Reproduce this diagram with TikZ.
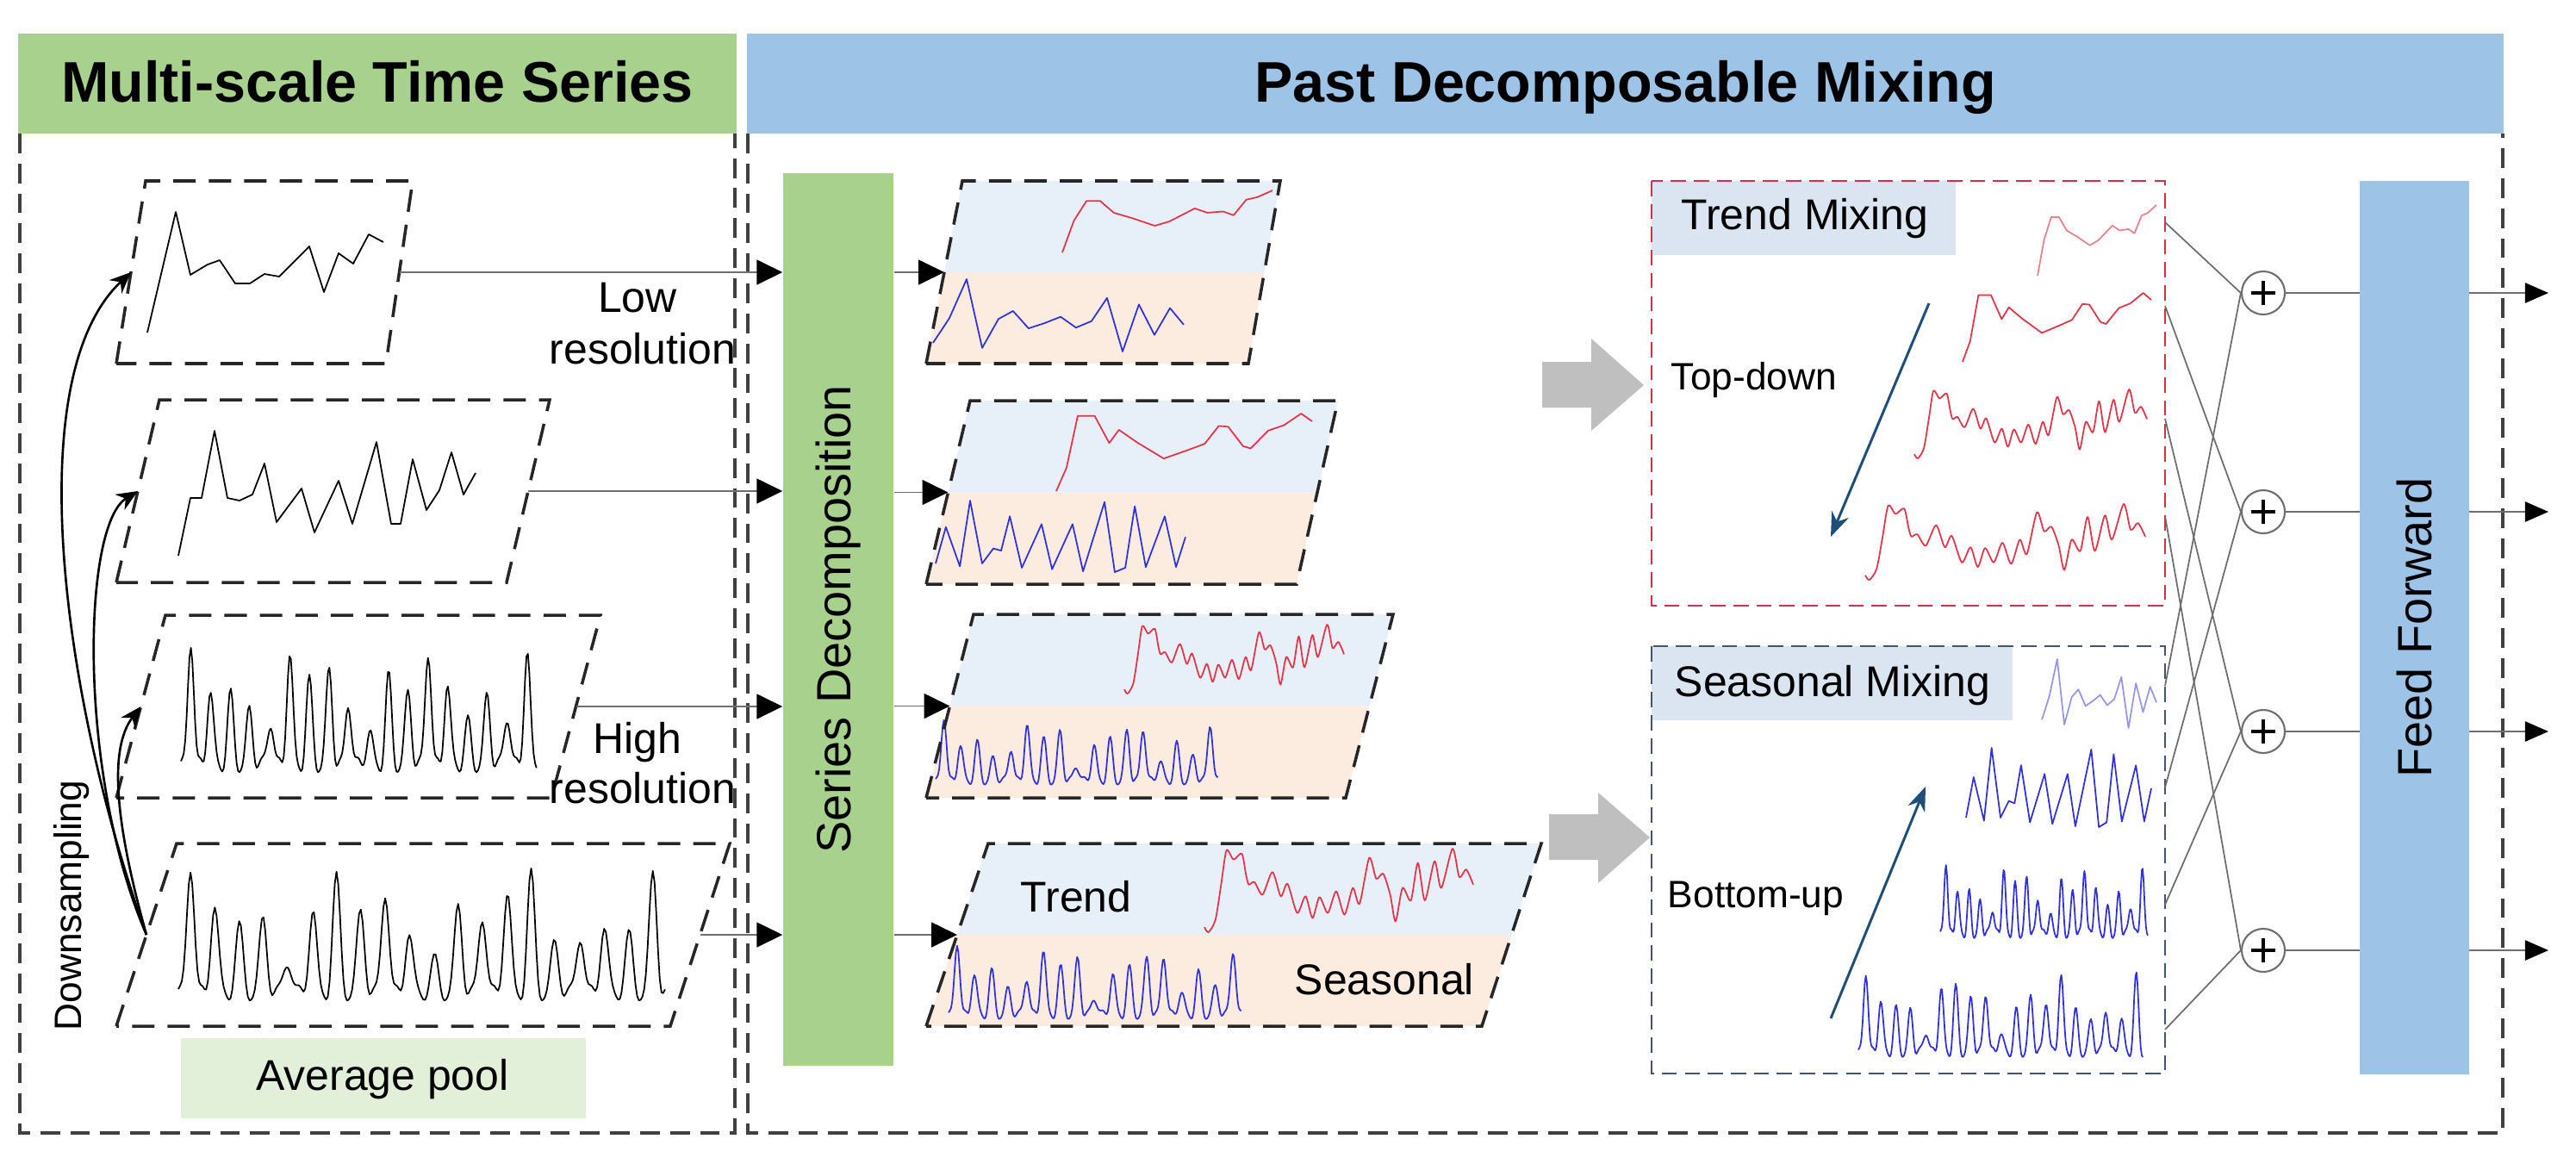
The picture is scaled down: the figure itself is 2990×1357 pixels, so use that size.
\documentclass[tikz,border=0pt]{standalone}
\usepackage{fontspec}
\setmainfont{Liberation Sans}
\usetikzlibrary{arrows.meta,calc}

\definecolor{hdgreen}{RGB}{169,209,142}
\definecolor{hdblue}{RGB}{157,195,230}
\definecolor{poolgreen}{RGB}{226,240,217}
\definecolor{lblblue}{RGB}{219,229,242}
\definecolor{topblue}{RGB}{231,239,248}
\definecolor{botorange}{RGB}{252,236,224}
\definecolor{trendred}{RGB}{228,52,72}
\definecolor{trendpale}{RGB}{232,130,140}
\definecolor{seasblue}{RGB}{48,48,220}
\definecolor{seaspale}{RGB}{150,150,235}
\definecolor{blockgray}{RGB}{191,191,191}
\definecolor{mixred}{RGB}{214,48,72}
\definecolor{mixslate}{RGB}{68,84,106}
\definecolor{navyarrow}{RGB}{31,78,121}
\definecolor{linegray}{RGB}{110,110,110}
\definecolor{panelgray}{RGB}{64,64,64}
\definecolor{paragray}{RGB}{38,38,38}

% parallelogram corner coordinates: name, BLx, TLx, TRx, BRx, ytop, ybot
\newcommand{\tspara}[7]{%
  \coordinate (#1-bl) at (#2,#7);
  \coordinate (#1-tl) at (#3,#6);
  \coordinate (#1-tr) at (#4,#6);
  \coordinate (#1-br) at (#5,#7);
  \coordinate (#1-ml) at ($(#1-bl)!0.5!(#1-tl)$);
  \coordinate (#1-mr) at ($(#1-br)!0.5!(#1-tr)$);}

\newcommand{\curveplot}[2]{\draw[#2] plot coordinates {#1};}
% style, xl, xr, ytop, ybot, normalized coordinate list (0..100)
\newcommand{\curvebox}[6]{%
  \begin{scope}[shift={(#2,#5)},xscale={(#3-#2)/100},yscale={-(#5-#4)/100}]
    \expandafter\curveplot\expandafter{#6}{#1}
  \end{scope}}

\newcommand{\trendA}{(0,0) (5.5,51) (11.5,83) (18,83) (24.5,64) (33.5,55) (44,43) (51,50) (63,71) (69,64) (76.5,66) (81.5,60) (87.5,85) (92.7,89) (100,100)}
\newcommand{\trendB}{(0,0) (4,30) (8.4,97) (15,97) (20.7,62) (24.5,79) (31.5,63) (42,42) (51.5,53) (58,61) (63.5,84) (67.2,83) (73,58) (76,55) (82.8,78) (89,85) (95.7,100) (100,90)}
\newcommand{\trendC}{(0,6) (1.5,0) (4.1,15) (6.2,57) (8.2,98) (10.8,87) (13.9,94) (15.5,68) (16.5,57) (18.6,60) (21.6,45) (25.3,72) (28.4,43) (30.9,58) (34.5,23) (37.6,43) (40.2,17) (42.8,42) (45.9,23) (49,49) (52.1,21) (55.2,53) (57.7,34) (61.3,89) (63.9,64) (66.5,70) (69.1,45) (71.1,13) (73.7,53) (76.8,38) (79.4,83) (82,38) (85.6,85) (88.1,53) (92.3,100) (94.8,66) (97.4,75) (100,57)}
\newcommand{\seasA}{(0,12) (6.5,46) (13.4,100) (19.6,5) (26.1,45) (31.9,56) (38.1,32) (44.3,39) (50.9,48) (57,33) (63.2,42) (69.4,74) (75.6,0) (82.1,65) (88.3,23) (94.5,60) (100,37)}
\newcommand{\seasB}{(0,12) (4.1,63) (9.7,8) (13.8,100) (18.6,12) (23.1,33) (26.2,30) (29.7,78) (34.5,6) (42.4,67) (46.6,4) (54.8,67) (59,1) (67.6,98) (71.7,0) (75.9,6) (79.7,92) (84.1,7) (91.7,78) (96.2,7) (100,49)}

\begin{document}
\begin{tikzpicture}[x=0.01cm,y=-0.01cm,
  declare function={p4(\av)=\av*\av*\av*\av;
    spk(\tv,\nv)=(0.6+0.22*sin(1116*\tv+50)+0.18*sin(2628*\tv+10))*p4(sin(180*\nv*\tv))+0.06*sin(450*\nv*\tv+30)+0.05;},
  panel/.style={draw=panelgray,line width=1pt,dash pattern=on 6.5pt off 3.4pt},
  para/.style={draw=paragray,line width=1pt,dash pattern=on 7.4pt off 4.3pt},
  trendbox/.style={draw=mixred,line width=0.7pt,dash pattern=on 5pt off 2.6pt},
  seasbox/.style={draw=mixslate,line width=0.7pt,dash pattern=on 5pt off 2.6pt},
  blk/.style={black,line width=0.5pt,line join=round},
  redc/.style={trendred,line width=0.5pt,line join=round},
  redpale/.style={trendpale,line width=0.5pt,line join=round},
  bluec/.style={seasblue,line width=0.5pt,line join=round},
  bluepale/.style={seaspale,line width=0.5pt,line join=round},
  inarrow/.style={draw=linegray,line width=0.55pt,-{Triangle[length=8.5pt,width=8.2pt,color=black]}},
  outarrow/.style={draw=linegray,line width=0.55pt,-{Triangle[length=7.7pt,width=6.6pt,color=black]}},
  dsarrow/.style={black,line width=0.75pt,-{Stealth[length=7pt,width=6pt]}},
  mixarrow/.style={navyarrow,line width=0.85pt,-{Stealth[length=8pt,width=6pt]}},
  conn/.style={linegray,line width=0.5pt},
  title/.style={font=\fontsize{18.9pt}{22pt}\selectfont\bfseries,inner sep=0pt},
  lbl/.style={font=\fontsize{14.2pt}{17pt}\selectfont,inner sep=0pt},
  lblsm/.style={font=\fontsize{12.6pt}{15pt}\selectfont,inner sep=0pt},
  bartext/.style={font=\fontsize{15.9pt}{19pt}\selectfont,rotate=90,inner sep=0pt},
  pluscirc/.style={circle,draw=linegray,line width=0.6pt,minimum size=0.5cm,inner sep=0pt,fill=white,
    path picture={
      \draw[line width=1.2pt,black] ([xshift=-0.14cm]path picture bounding box.center) -- ([xshift=0.14cm]path picture bounding box.center);
      \draw[line width=1.2pt,black] ([yshift=-0.14cm]path picture bounding box.center) -- ([yshift=0.14cm]path picture bounding box.center);}}
]
\useasboundingbox (0,0) rectangle (2990,1357);

% ---------------- headers ----------------
\node[fill=hdgreen,minimum width=8.34cm,minimum height=1.16cm,inner sep=0pt] (hdl) at (438,97) {};
\node[fill=hdblue,minimum width=20.37cm,minimum height=1.16cm,inner sep=0pt] (hdr) at (1886.5,97) {};
\node[title,anchor=base] (ttl) at (438,118) {Multi-scale Time Series};
\node[title,anchor=base] (ttr) at (1886.5,118) {Past Decomposable Mixing};

% ---------------- panels ----------------
\draw[panel] (23,155) -- (23,1315) -- (853,1315) -- (853,155);
\draw[panel] (868,155) -- (868,1315) -- (2905,1315) -- (2905,155);

% ---------------- left: multi-scale series ----------------
\tspara{p1}{135}{169}{479}{448}{210}{422}
\tspara{p2}{135}{185}{638}{588}{464}{676}
\tspara{p3}{135}{192}{697}{640}{714}{926}
\tspara{p4}{135}{205}{847}{778}{979}{1191}
\foreach \pp in {p1,p2,p3,p4} {\draw[para] (\pp-bl) -- (\pp-tl) -- (\pp-tr) -- (\pp-br) -- cycle;}

\draw[blk] plot coordinates {(171,386) (204,246) (221,319) (241,307) (255,302) (273,329) (290,329) (307,318) (324,321) (359,286) (376,339) (393,294) (410,306) (428,272) (445,281)};
\draw[blk] plot coordinates {(207,645) (221,578) (234,578) (249,500) (264,578) (278,581) (293,574) (307,538) (321,606) (350,567) (365,618) (393,558) (409,608) (437,513) (454,608) (465,608) (479,533) (495,592) (510,569) (524,525) (538,574) (552,549)};
\draw[blk] plot[domain=0:1,samples=250] ({210+413*\x},{895-145*spk(\x,18)});
\draw[blk] plot[domain=0:1,samples=280] ({207+565*\x},{1160-150*spk(\x,20)});

% downsampling arrows
\draw[dsarrow] (p4-ml) .. controls (75,820) and (20,440) .. (p1-ml);
\draw[dsarrow] (p4-ml) .. controls (90,900) and (95,610) .. (p2-ml);
\draw[dsarrow] (p4-ml) .. controls (135,960) and (125,870) .. (p3-ml);

\node[lblsm,rotate=90] (dsl) at (83.5,1051) {Downsampling};
\node[lbl,anchor=base] (low1) at (740,362) {Low};
\node[lbl,anchor=base] (low2) at (746,422) {resolution};
\node[lbl,anchor=base] (high1) at (740,874) {High};
\node[lbl,anchor=base] (high2) at (746,932) {resolution};

\fill[poolgreen] (210,1205) rectangle (680,1298);
\node[lbl,anchor=base] (avg) at (444,1265) {Average pool};

% ---------------- series decomposition ----------------
\node[fill=hdgreen,minimum width=1.28cm,minimum height=10.36cm,inner sep=0pt] (sd) at (973,719) {};
\node[bartext] (sdt) at (sd.center) {Series Decomposition};

\foreach \pp in {p1,p2,p3,p4} {\draw[inarrow] (\pp-mr) -- (\pp-mr -| sd.west);}

\tspara{d1}{1075}{1117}{1486}{1449}{210}{422}
\tspara{d2}{1075}{1126}{1553}{1505}{465}{678}
\tspara{d3}{1075}{1130}{1617}{1562}{713}{926}
\tspara{d4}{1075}{1147}{1789}{1720}{979}{1191}
\foreach \pp in {d1,d2,d3,d4} {
  \fill[topblue] (\pp-tl) -- (\pp-tr) -- (\pp-mr) -- (\pp-ml) -- cycle;
  \fill[botorange] (\pp-ml) -- (\pp-mr) -- (\pp-br) -- (\pp-bl) -- cycle;
  \draw[inarrow] (sd.east |- \pp-ml) -- (\pp-ml);
}

% decomposed curves
\curvebox{redc}{1233}{1477}{221}{293}{\trendA}
\curvebox{bluec}{1083}{1374}{324}{408}{\seasA}
\curvebox{redc}{1226}{1523}{480}{570}{\trendB}
\curvebox{bluec}{1086}{1376}{581}{664}{\seasB}
\curvebox{redc,smooth,tension=0.45}{1305}{1560}{725}{805}{\trendC}
\draw[bluec] plot[domain=0:1,samples=240] ({1086+328*\x},{910-75*spk(\x,17)});
\curvebox{redc,smooth,tension=0.45}{1398}{1710}{985}{1082}{\trendC}
\draw[bluec] plot[domain=0:1,samples=240] ({1101+340*\x},{1182-85*spk(\x,17)});

\foreach \pp in {d1,d2,d3,d4} {\draw[para] (\pp-bl) -- (\pp-tl) -- (\pp-tr) -- (\pp-br) -- cycle;}

\node[lbl,anchor=base] (trl) at (1249,1058) {Trend};
\node[lbl,anchor=base] (sel) at (1607,1154) {Seasonal};

% ---------------- block arrows ----------------
\fill[blockgray] (1790,420) -- (1847,420) -- (1847,393) -- (1908,447) -- (1847,500) -- (1847,473) -- (1790,473) -- cycle;
\fill[blockgray] (1798,945) -- (1855,945) -- (1855,920) -- (1915,972) -- (1855,1025) -- (1855,998) -- (1798,998) -- cycle;

% ---------------- trend mixing ----------------
\fill[lblblue] (1917,210) rectangle (2270,296);
\draw[trendbox] (1917,210) rectangle (2513,703);
\node[lbl,anchor=base] (tml) at (2095,266) {Trend Mixing};
\node[lblsm,anchor=base] (tdl) at (2036,452) {Top-down};
\coordinate (tda) at (2239,352);
\coordinate (tdb) at (2125,623);
\draw[mixarrow] (tda) -- (tdb);
\curvebox{redpale}{2365}{2503}{238}{320}{\trendA}
\curvebox{redc}{2278}{2497}{340}{420}{\trendB}
\curvebox{redc,smooth,tension=0.45}{2222}{2492}{452}{532}{\trendC}
\curvebox{redc,smooth,tension=0.45}{2165}{2490}{585}{673}{\trendC}

% ---------------- seasonal mixing ----------------
\fill[lblblue] (1917,750) rectangle (2336,836);
\draw[seasbox] (1917,750) rectangle (2513,1246);
\node[lbl,anchor=base] (sml) at (2127,808) {Seasonal Mixing};
\node[lblsm,anchor=base] (bul) at (2038,1053) {Bottom-up};
\coordinate (bua) at (2125,1182);
\coordinate (bub) at (2235,913);
\draw[mixarrow] (bua) -- (bub);
\curvebox{bluepale}{2370}{2503}{765}{845}{\seasA}
\curvebox{bluec}{2282}{2497}{868}{960}{\seasB}
\draw[bluec] plot[domain=0:1,samples=250] ({2252+241*\x},{1088-85*spk(\x,18)});
\draw[bluec] plot[domain=0:1,samples=270] ({2157+331*\x},{1226-95*spk(\x,19)});

% ---------------- sums ----------------
\coordinate (tr1) at (2513,258);
\coordinate (tr2) at (2513,355);
\coordinate (tr3) at (2513,486);
\coordinate (tr4) at (2513,599);
\coordinate (se1) at (2513,796);
\coordinate (se2) at (2513,914);
\coordinate (se3) at (2513,1050);
\coordinate (se4) at (2513,1195);
\node[pluscirc] (c1) at (2627,340) {};
\node[pluscirc] (c2) at (2627,594) {};
\node[pluscirc] (c3) at (2627,849) {};
\node[pluscirc] (c4) at (2627,1103) {};
\foreach \i in {1,2,3,4} {
  \draw[conn] (tr\i) -- (c\i.west);
  \draw[conn] (se\i) -- (c\i.west);
}
\coordinate (o1) at (2958,340);
\coordinate (o2) at (2958,594);
\coordinate (o3) at (2958,849);
\coordinate (o4) at (2958,1103);
\foreach \i in {1,2,3,4} {\draw[outarrow] (c\i.east) -- (o\i);}

% ---------------- feed forward ----------------
\node[fill=hdblue,minimum width=1.27cm,minimum height=10.37cm,inner sep=0pt] (ff) at (2802.5,728.5) {};
\node[bartext] (fft) at (ff.center) {Feed Forward};
\end{tikzpicture}
\end{document}
